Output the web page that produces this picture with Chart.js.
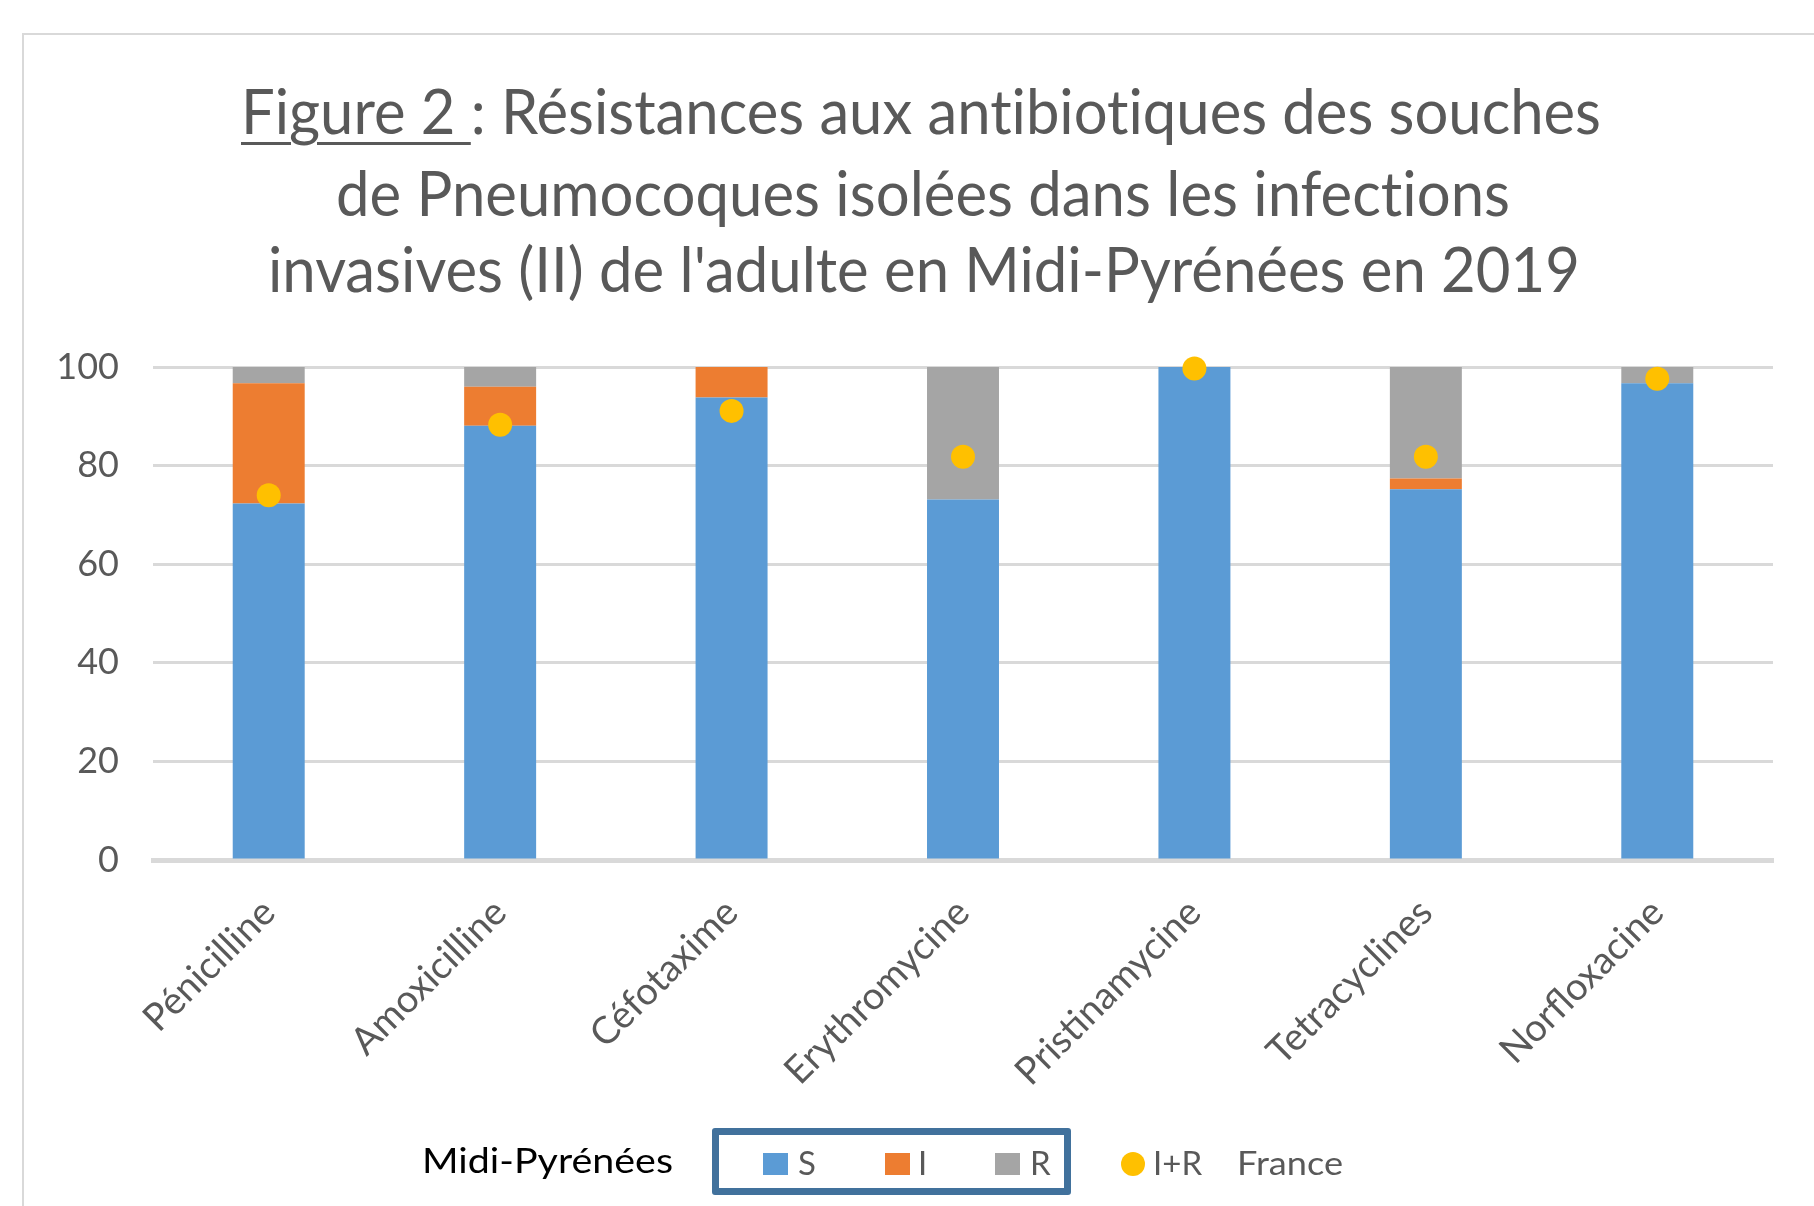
<!DOCTYPE html>
<html><head><meta charset="utf-8">
<script src="https://cdn.jsdelivr.net/npm/chart.js@4.4.1/dist/chart.umd.min.js"></script>
<style>
html,body{margin:0;padding:0;background:#fff;}
body{width:1814px;height:1206px;position:relative;overflow:hidden;font-family:Lato,sans-serif;}
#frame{position:absolute;left:22px;top:33px;width:1900px;height:1300px;border:2px solid #d9d9d9;box-sizing:border-box;}
canvas{position:absolute;left:0;top:0;}
.txt{position:absolute;white-space:nowrap;transform-origin:0 0;line-height:1;font-family:Lato,sans-serif;font-variant-ligatures:none;font-feature-settings:"liga" 0,"dlig" 0;}
.title{font-size:61px;color:#595959;}
.title u{text-decoration-thickness:3px;text-underline-offset:8px;}
.leg{font-size:33px;color:#595959;}
.legk{font-size:35px;color:#000;}
#legbox{position:absolute;left:712px;top:1128px;width:359px;height:67px;border:7px solid #41719c;box-sizing:border-box;border-radius:3px;}
.sw{position:absolute;width:25px;height:22px;top:1153px;}
#dot{position:absolute;left:1121px;top:1152px;width:24px;height:24px;border-radius:50%;background:#ffc000;}
</style></head>
<body>
<div id="frame"></div>
<canvas id="c" width="1814" height="1206"></canvas>
<div id="legbox"></div>
<div class="sw" style="left:763px;background:#5b9bd5"></div>
<div class="sw" style="left:885px;background:#ed7d31"></div>
<div class="sw" style="left:995px;background:#a5a5a5"></div>
<div id="dot"></div>
<script>
// ---- data ----
const categories = ['Pénicilline','Amoxicilline','Céfotaxime','Erythromycine','Pristinamycine','Tetracyclines','Norfloxacine'];
const seriesS = [72.3, 88.1, 93.8, 73.1, 100, 75.2, 96.7];
const seriesI = [24.4, 7.9, 6.2, 0, 0, 2.2, 0];
const seriesR = [3.3, 4.0, 0, 26.9, 0, 22.6, 3.3];
const franceIR = [74.0, 88.3, 91.1, 81.8, 99.7, 81.8, 97.6];
const yTicks = [0, 20, 40, 60, 80, 100];
const titleLines = ['Figure 2 ', ': Résistances aux antibiotiques des souches', 'de Pneumocoques isolées dans les infections', "invasives (II) de l'adulte en Midi-Pyrénées en 2019"];
const legendGroup = 'Midi-Pyrénées';
const legendLabels = ['S', 'I', 'R', 'I+R', 'France'];

function place(nodes, cls, left, right, baseline) {
  const el = document.createElement('div');
  el.className = 'txt ' + cls;
  nodes.forEach(n => el.appendChild(n));
  const bm = document.createElement('span');
  bm.style.cssText = 'display:inline-block;width:0;height:0;vertical-align:baseline';
  el.appendChild(bm);
  document.body.appendChild(el);
  el.style.left = left + 'px';
  el.style.top = '0px';
  const w = el.getBoundingClientRect().width;
  const b = bm.getBoundingClientRect().top;
  el.style.top = (baseline - b) + 'px';
  if (right != null) el.style.transform = 'scaleX(' + ((right - left) / w) + ')';
}
const T = s => document.createTextNode(s);
const U = s => { const u = document.createElement('u'); u.textContent = s; return u; };

place([U(titleLines[0]), T(titleLines[1])], 'title', 241, 1601, 134);
place([T(titleLines[2])], 'title', 336, 1510, 216);
place([T(titleLines[3])], 'title', 268, 1580, 292);

place([T(legendGroup)], 'legk', 422, 673, 1173);
place([T(legendLabels[0])], 'leg', 798, null, 1175);
place([T(legendLabels[1])], 'leg', 918, null, 1175);
place([T(legendLabels[2])], 'leg', 1030, null, 1175);
place([T(legendLabels[3])], 'leg', 1153, null, 1175);
place([T(legendLabels[4])], 'leg', 1237, 1343, 1175);

new Chart(document.getElementById('c'), {
  data: {
    labels: categories,
    datasets: [
      {type: 'line', label: 'I+R France', data: franceIR, showLine: false, pointRadius: 12, pointHoverRadius: 12,
       pointBackgroundColor: '#ffc000', pointBorderWidth: 0, backgroundColor: '#ffc000', borderColor: '#ffc000',
       order: 0, stack: 'fr', clip: false},
      {type: 'bar', label: 'S', data: seriesS, backgroundColor: '#5b9bd5', order: 1, stack: 'mp'},
      {type: 'bar', label: 'I', data: seriesI, backgroundColor: '#ed7d31', order: 1, stack: 'mp'},
      {type: 'bar', label: 'R', data: seriesR, backgroundColor: '#a5a5a5', order: 1, stack: 'mp'}
    ]
  },
  options: {
    responsive: false, animation: false, devicePixelRatio: 1,
    layout: {padding: {top: 367, left: 0, right: 41, bottom: 96}},
    datasets: {bar: {barPercentage: 0.311, categoryPercentage: 1}},
    plugins: {legend: {display: false}, title: {display: false}, tooltip: {enabled: false}},
    scales: {
      x: {stacked: true, grid: {display: false, drawTicks: false},
          border: {display: true, color: '#d9d9d9', width: 5},
          ticks: {font: {family: 'Lato', size: 38}, color: '#595959', minRotation: 45, maxRotation: 45, autoSkip: false, padding: 30},
          afterFit(s) { s.height = 250; }},
      y: {stacked: true, min: 0, max: 100,
          grid: {color: '#d9d9d9', lineWidth: 3, drawTicks: false},
          border: {display: false},
          afterBuildTicks(s) { s.ticks = yTicks.map(v => ({value: v})); },
          ticks: {font: {family: 'Lato', size: 36}, color: '#595959', padding: 34},
          afterFit(s) { s.width = 153; }}
    }
  }
});
</script>
</body></html>
